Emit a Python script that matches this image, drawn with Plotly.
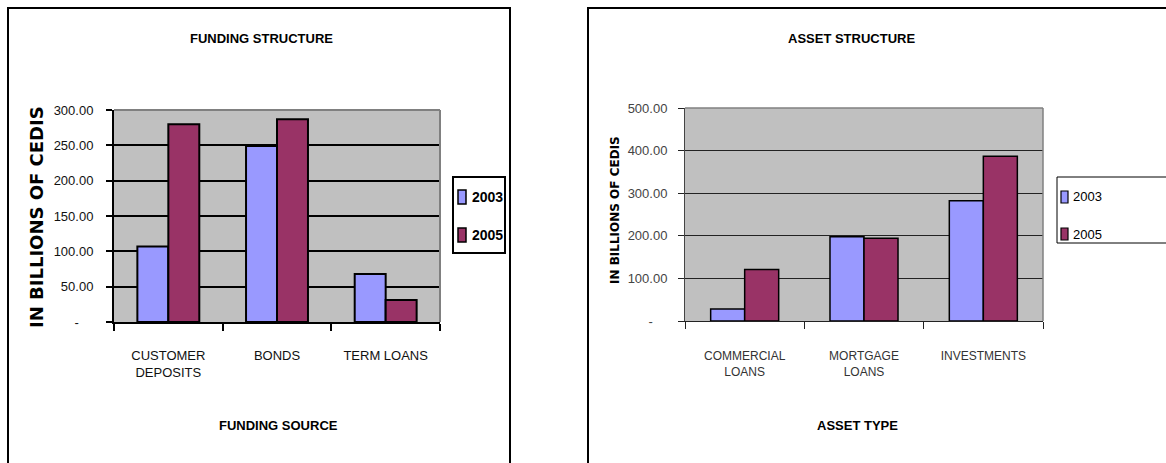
import plotly.graph_objects as go

# ---------------- data ----------------
funding_sources = ["CUSTOMER DEPOSITS", "BONDS", "TERM LOANS"]
funding_labels = ["CUSTOMER<br>DEPOSITS", "BONDS", "TERM LOANS"]
funding_2003 = [107, 249, 68]
funding_2005 = [280, 287, 31]

asset_types = ["COMMERCIAL LOANS", "MORTGAGE LOANS", "INVESTMENTS"]
asset_labels = ["COMMERCIAL<br>LOANS", "MORTGAGE<br>LOANS", "INVESTMENTS"]
asset_2003 = [28, 198, 282]
asset_2005 = [121, 194, 387]

series_names = ["2003", "2005"]
funding_ticks = [0, 50, 100, 150, 200, 250, 300]
asset_ticks = [0, 100, 200, 300, 400, 500]

# ---------------- style ----------------
W, H = 1166, 463
C03, C05 = "#9999FF", "#993366"
SANS = "Liberation Sans, Arial, sans-serif"
WIDE = "DejaVu Sans, sans-serif"


def px(x):
    return x / W


def py(y):
    return 1 - y / H


def fmt(v):
    return "-\u00a0\u00a0\u00a0\u00a0" if v == 0 else f"{v:.2f}"


fig = go.Figure()
for vals, name, col in [(funding_2003, series_names[0], C03), (funding_2005, series_names[1], C05)]:
    fig.add_trace(go.Bar(x=funding_sources, y=vals, name=name, xaxis="x", yaxis="y",
                         marker=dict(color=col, line=dict(color="black", width=2))))
for vals, name, col in [(asset_2003, series_names[0], C03), (asset_2005, series_names[1], C05)]:
    fig.add_trace(go.Bar(x=asset_types, y=vals, name=name, xaxis="x2", yaxis="y2",
                         marker=dict(color=col, line=dict(color="black", width=1.5))))

fig.update_layout(
    width=W, height=H, autosize=False,
    margin=dict(l=0, r=0, t=0, b=0, pad=0, autoexpand=False),
    paper_bgcolor="white", plot_bgcolor="#C0C0C0",
    showlegend=False, barmode="group", bargap=0.43, bargroupgap=0,
    xaxis=dict(domain=[px(114), px(440)], anchor="y", type="category", automargin=False,
               range=[-0.5, 2.5], tickvals=funding_sources, ticktext=funding_labels,
               tickson="boundaries", ticks="outside", ticklen=7, tickwidth=2, tickcolor="black",
               showline=True, linecolor="black", linewidth=2, showgrid=False,
               ticklabelstandoff=20,
               tickfont=dict(family=SANS, size=13, color="#111")),
    yaxis=dict(domain=[py(322), py(110)], anchor="x", range=[0, 300], automargin=False,
               tickvals=funding_ticks, ticktext=[fmt(v) for v in funding_ticks],
               ticks="outside", ticklen=6, tickwidth=2, tickcolor="black",
               showline=True, linecolor="black", linewidth=2,
               showgrid=True, gridcolor="black", gridwidth=2, zeroline=False,
               ticklabelstandoff=10,
               tickfont=dict(family=SANS, size=13, color="#111")),
    xaxis2=dict(domain=[px(685), px(1043)], anchor="y2", type="category", automargin=False,
                range=[-0.5, 2.5], tickvals=asset_types, ticktext=asset_labels,
                tickson="boundaries", ticks="outside", ticklen=7, tickwidth=1, tickcolor="#222",
                showline=True, linecolor="#222", linewidth=1, showgrid=False,
                ticklabelstandoff=24,
                tickfont=dict(family=SANS, size=12, color="#333")),
    yaxis2=dict(domain=[py(321), py(108)], anchor="x2", range=[0, 500], automargin=False,
                tickvals=asset_ticks, ticktext=[fmt(v) for v in asset_ticks],
                ticks="outside", ticklen=6, tickwidth=1, tickcolor="#222",
                showline=True, linecolor="#444", linewidth=1,
                showgrid=True, gridcolor="#222", gridwidth=1, zeroline=False,
                ticklabelstandoff=8,
                tickfont=dict(family=SANS, size=13, color="#444")),
)

shapes = []
# outer chart borders
shapes.append(dict(type="rect", xref="paper", yref="paper", x0=px(8), x1=px(510), y0=py(480), y1=py(8),
                   line=dict(color="black", width=2), fillcolor="rgba(0,0,0,0)", layer="below"))
shapes.append(dict(type="rect", xref="paper", yref="paper", x0=px(588), x1=px(1180), y0=py(480), y1=py(8),
                   line=dict(color="black", width=2), fillcolor="rgba(0,0,0,0)", layer="below"))
# plot area top / right borders (gray)
for (x0, x1, yt, yb, w) in [(114, 440, 110, 322, 2), (685, 1043, 108, 321, 1.5)]:
    shapes.append(dict(type="line", xref="paper", yref="paper", x0=px(x0), x1=px(x1), y0=py(yt), y1=py(yt),
                       line=dict(color="#808080", width=w), layer="above"))
    shapes.append(dict(type="line", xref="paper", yref="paper", x0=px(x1), x1=px(x1), y0=py(yt), y1=py(yb),
                       line=dict(color="#808080", width=w), layer="above"))

# legends (manual)
shapes.append(dict(type="rect", xref="paper", yref="paper", x0=px(453), x1=px(505), y0=py(253), y1=py(177),
                   line=dict(color="black", width=2), fillcolor="white"))
shapes.append(dict(type="rect", xref="paper", yref="paper", x0=px(1057), x1=px(1180), y0=py(243), y1=py(177),
                   line=dict(color="black", width=1), fillcolor="white"))
legend_specs = [
    (458, 466, [(190, 204), (228, 242)], 470, [197, 235], dict(family=SANS, size=14, color="black"), "<b>%s</b>", 1.5),
    (1061, 1068, [(191, 203), (228, 240)], 1071, [197, 234], dict(family=SANS, size=13, color="black"), "%s", 1.2),
]
annotations = []
for (sx0, sx1, ys, tx, tys, font, tmpl, lw) in legend_specs:
    for (y0, y1), ty, name, col in zip(ys, tys, series_names, [C03, C05]):
        shapes.append(dict(type="rect", xref="paper", yref="paper", x0=px(sx0), x1=px(sx1), y0=py(y1), y1=py(y0),
                           line=dict(color="black", width=lw), fillcolor=col))
        annotations.append(dict(xref="paper", yref="paper", x=px(tx), y=py(ty), xanchor="left", yanchor="middle",
                                text=tmpl % name, showarrow=False, font=font))

# titles
annotations += [
    dict(xref="paper", yref="paper", x=px(261), y=py(39), text="<b>FUNDING STRUCTURE</b>", showarrow=False,
         font=dict(family=SANS, size=13, color="black"), xanchor="center", yanchor="middle"),
    dict(xref="paper", yref="paper", x=px(278), y=py(425), text="<b>FUNDING SOURCE</b>", showarrow=False,
         font=dict(family=SANS, size=13, color="black"), xanchor="center", yanchor="middle"),
    dict(xref="paper", yref="paper", x=px(36), y=py(330), text="<b>IN BILLIONS OF CEDIS</b>", showarrow=False,
         textangle=-90, font=dict(family=WIDE, size=18, color="black"), xanchor="center", yanchor="bottom"),
    dict(xref="paper", yref="paper", x=px(851), y=py(38), text="<b>ASSET STRUCTURE</b>", showarrow=False,
         font=dict(family=SANS, size=13, color="black"), xanchor="center", yanchor="middle"),
    dict(xref="paper", yref="paper", x=px(858), y=py(425), text="<b>ASSET TYPE</b>", showarrow=False,
         font=dict(family=SANS, size=13, color="black"), xanchor="center", yanchor="middle"),
    dict(xref="paper", yref="paper", x=px(615), y=py(210), text="<b>IN BILLIONS OF CEDIS</b>", showarrow=False,
         textangle=-90, font=dict(family=WIDE, size=12, color="black"),
         xanchor="center", yanchor="middle"),
]

fig.update_layout(shapes=shapes, annotations=annotations)
fig.write_html("out.html")
